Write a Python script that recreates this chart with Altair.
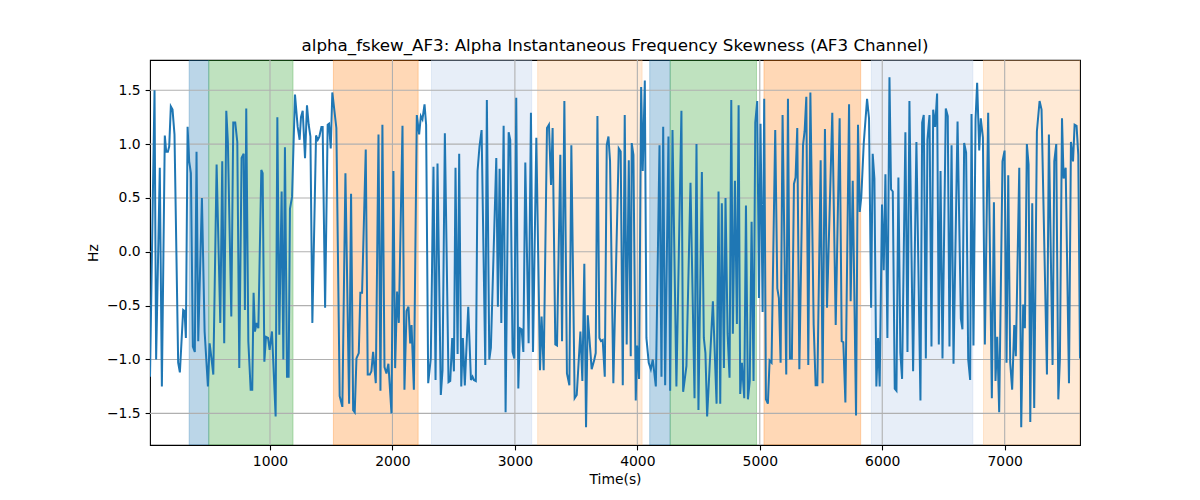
import altair as alt
import pandas as pd

time_s = [20, 57, 70, 100, 117, 141, 152, 166, 177, 190, 204, 220, 250, 264, 291, 302, 313, 327, 340, 354,
          370, 386, 400, 414, 444, 466, 493, 507, 523, 537, 564, 594, 610, 626, 643, 656, 684, 700, 716, 733,
          749, 768, 785, 795, 806, 823, 842, 855, 866, 877, 891, 905, 929, 940, 954, 967, 984, 997, 1016, 1046,
          1060, 1076, 1095, 1109, 1122, 1139, 1152, 1163, 1180, 1204, 1226, 1242, 1253, 1267, 1286, 1302, 1316, 1330, 1346, 1376,
          1390, 1403, 1420, 1430, 1450, 1471, 1482, 1496, 1509, 1542, 1569, 1591, 1616, 1646, 1662, 1679, 1692, 1706, 1725, 1738,
          1752, 1782, 1798, 1815, 1828, 1842, 1864, 1886, 1902, 1918, 1935, 1951, 1967, 1992, 2008, 2022, 2038, 2052, 2082, 2098,
          2115, 2131, 2145, 2156, 2175, 2199, 2218, 2232, 2245, 2262, 2275, 2292, 2313, 2335, 2352, 2368, 2395, 2409, 2428, 2458,
          2472, 2488, 2502, 2515, 2532, 2545, 2562, 2575, 2591, 2619, 2641, 2654, 2665, 2681, 2695, 2711, 2728, 2758, 2771, 2791,
          2804, 2848, 2861, 2875, 2889, 2908, 2924, 2949, 2962, 2981, 2995, 3011, 3028, 3041, 3055, 3069, 3085, 3112, 3131, 3148,
          3175, 3205, 3218, 3235, 3262, 3278, 3295, 3308, 3330, 3344, 3371, 3385, 3404, 3425, 3445, 3461, 3488, 3505, 3535, 3551,
          3567, 3581, 3595, 3627, 3649, 3660, 3674, 3690, 3703, 3717, 3734, 3750, 3764, 3777, 3804, 3848, 3864, 3881, 3897, 3913,
          3930, 3946, 3954, 3968, 3987, 3998, 4014, 4031, 4044, 4061, 4074, 4093, 4110, 4126, 4151, 4181, 4197, 4211, 4227, 4254,
          4268, 4287, 4319, 4360, 4374, 4401, 4434, 4467, 4483, 4499, 4527, 4543, 4556, 4570, 4617, 4647, 4663, 4677, 4690, 4707,
          4720, 4737, 4753, 4767, 4780, 4797, 4813, 4827, 4840, 4854, 4873, 4887, 4903, 4918, 4933, 4949, 4963, 4979, 4993, 5006,
          5023, 5036, 5050, 5066, 5080, 5096, 5126, 5143, 5156, 5170, 5186, 5216, 5230, 5246, 5262, 5279, 5292, 5306, 5323, 5353,
          5366, 5380, 5396, 5413, 5440, 5456, 5470, 5497, 5513, 5532, 5549, 5592, 5620, 5652, 5669, 5682, 5699, 5729, 5742, 5759,
          5786, 5802, 5816, 5829, 5849, 5876, 5892, 5909, 5922, 5936, 5952, 5966, 5979, 5998, 6012, 6026, 6042, 6059, 6072, 6086,
          6102, 6116, 6132, 6148, 6162, 6189, 6206, 6222, 6252, 6279, 6312, 6326, 6339, 6356, 6369, 6386, 6402, 6416, 6432, 6448,
          6462, 6476, 6492, 6519, 6535, 6549, 6566, 6582, 6615, 6642, 6655, 6669, 6685, 6702, 6718, 6729, 6745, 6762, 6775, 6792,
          6805, 6822, 6838, 6865, 6895, 6912, 6925, 6939, 6955, 6982, 6999, 7015, 7029, 7045, 7061, 7078, 7091, 7119, 7135, 7151,
          7165, 7181, 7195, 7209, 7225, 7241, 7263, 7285, 7301, 7345, 7361, 7391, 7405, 7421, 7438, 7451, 7468, 7481, 7498, 7525,
          7541, 7558, 7571, 7587, 7601, 7615]

hz = [-1.16, 1.50, -1.00, 0.78, -1.25, 1.08, 0.93, 0.93, 0.98, 1.35, 1.32, 1.09, -1.03, -1.12, -0.54, -0.55, -0.80, 1.16, 0.84, 0.73,
      -0.88, -0.93, 0.93, -0.83, 0.50, -0.74, -1.25, -0.85, -1.00, -1.14, 0.81, -0.66, 0.84, -0.85, 1.31, 1.02, -0.60, 1.20, 1.20, 1.02,
      -1.08, 0.87, 0.91, -0.54, 1.33, -0.83, -1.28, -1.28, -0.38, -0.74, -0.66, -0.71, 0.76, 0.73, -1.02, -0.79, -0.80, -0.91, -0.74, -1.53,
      1.25, -0.77, 0.56, -1.00, 0.97, -1.16, -1.16, 0.40, 0.51, 1.46, 1.16, 1.04, 1.25, 1.31, 0.87, 1.36, 1.18, 1.07, -0.66, 1.08,
      1.04, 1.07, 1.16, 1.16, -0.52, 1.18, 1.19, 0.96, 1.48, 1.15, -1.34, -1.44, 0.73, -1.41, 0.54, -1.47, -1.49, -0.99, -0.94, -0.38,
      -0.38, 0.95, -1.14, -1.14, -1.11, -0.93, -1.22, 1.09, -1.29, 1.18, -1.07, -1.13, -1.04, -1.50, 0.75, -1.08, -0.37, -0.66, 1.17, -1.28,
      -0.55, -0.51, -0.85, -0.68, -1.28, 1.27, 1.09, 1.26, 1.23, 1.37, 1.18, -1.22, -0.99, 0.79, -1.19, 0.82, -1.33, -1.10, 1.10, -1.21,
      -1.20, -0.80, -1.11, 0.78, -0.95, 0.91, -1.25, -0.80, -1.24, -0.51, -1.19, -1.16, -1.19, -1.20, 0.75, 0.98, 1.13, -1.05, 1.41, -1.00,
      -0.89, 0.87, -0.51, 0.77, -0.66, 1.17, -1.49, 1.11, 1.04, -0.93, -0.99, 1.43, -1.27, -0.71, -0.72, -0.93, 0.83, -0.85, 1.29, -0.93,
      1.06, -1.10, -0.60, -1.10, 1.15, 1.18, 0.62, 1.15, -0.86, -0.87, 0.90, -0.83, 1.40, -1.13, -1.24, 0.99, -1.36, -1.33, -0.74, -1.20,
      -0.11, -1.63, -0.59, -1.09, -1.00, -0.94, 1.26, -0.80, -0.83, -0.82, -1.16, 0.99, 1.07, 0.84, -1.22, 0.96, 0.93, -1.24, 1.27, -0.86,
      0.85, -0.97, 1.01, 0.90, -1.38, -0.87, -1.18, 1.53, 0.75, 1.59, -0.80, -1.03, -1.09, -1.00, -1.25, 0.99, -1.16, 1.16, -1.24, 1.07,
      -1.29, 1.13, -1.25, 1.31, -1.30, -1.06, 0.64, -1.36, 1.00, -1.47, 0.74, -0.80, -0.94, -1.53, -0.46, -1.41, 0.56, -1.41, 0.45, -1.08,
      0.50, -0.76, -1.17, 1.41, -0.76, 0.66, -0.67, 1.36, -1.32, -1.03, -1.36, 0.43, -1.37, -1.20, 0.28, -1.20, 1.20, 1.40, -0.43, 1.19,
      -0.56, 1.42, -1.37, -1.41, -1.01, -1.03, 1.13, -0.34, -0.43, -1.03, 1.27, -1.14, 1.42, -0.99, -0.99, 0.63, 0.69, 1.15, -1.09, 0.99,
      1.12, 1.44, -1.05, 1.48, -0.68, -1.24, -1.24, 0.85, -1.22, 1.14, -0.52, 1.29, -0.68, 1.24, -0.83, -0.84, -1.40, 1.37, -0.46, 0.66,
      -1.52, 1.18, 0.37, 0.51, 1.01, 1.42, 1.24, -0.52, 0.91, 0.68, -1.25, -0.80, -1.25, 0.44, -0.17, 0.72, -0.80, 1.62, 0.58, 0.56,
      -1.27, -1.29, 0.69, -0.94, -1.18, 1.11, -0.93, 1.40, -1.11, 1.02, -1.38, 1.20, 1.27, -0.99, 1.04, 1.27, -0.88, 1.32, 1.16, 1.47,
      -0.86, 0.75, -0.99, 1.33, 1.26, -0.88, 0.99, -1.04, 1.21, -0.62, -0.72, 1.01, 0.92, -1.00, -1.19, 1.28, -0.87, 1.23, 1.57, 0.94,
      1.24, 1.06, -0.86, 1.29, -1.36, 0.46, -1.20, -0.79, -1.49, 0.84, 0.94, -1.03, 0.71, -1.03, -1.28, -0.68, -0.97, 0.78, -1.63, -0.49,
      -0.71, 1.00, 0.81, -1.58, 0.45, -1.45, 1.12, 1.40, 1.32, -1.14, 1.09, -1.05, 0.84, 1.00, -1.37, -0.99, 1.24, 0.68, 0.78, -1.22,
      1.02, 0.84, 1.18, 1.17, 0.90, -0.99]

span_start = [340, 500, 1518, 2319, 3186, 4101, 4268, 5034, 5911, 6827]
span_end = [500, 1188, 2210, 3137, 4039, 4268, 4973, 5824, 6740, 7615]
span_color = ["#1f77b4", "#2ca02c", "#ff7f0e", "#aec7e8", "#ffbb78",
              "#1f77b4", "#2ca02c", "#ff7f0e", "#aec7e8", "#ffbb78"]

x_ticks = [1000, 2000, 3000, 4000, 5000, 6000, 7000]
y_ticks = [-1.5, -1.0, -0.5, 0.0, 0.5, 1.0, 1.5]

W, H = 930, 385

df = pd.DataFrame({"t": time_s, "v": hz})
spans = pd.DataFrame({"start": span_start, "end": span_end, "color": span_color})
xg = pd.DataFrame({"x": x_ticks})
yg = pd.DataFrame({"y": y_ticks})

x_scale = alt.Scale(domain=[20, 7615], nice=False, zero=False)
y_scale = alt.Scale(domain=[-1.794, 1.781], nice=False, zero=False)

x_axis = alt.Axis(values=x_ticks, format="d", title="Time(s)", titlePadding=4, labelFlush=False)
y_axis = alt.Axis(values=y_ticks, title="Hz", titlePadding=6,
                  labelExpr="replace(format(datum.value, '.1f'), '-', '\u2212')")

rects = alt.Chart(spans).mark_rect(fillOpacity=0.3, strokeOpacity=0.3, strokeWidth=1, clip=True).encode(
    x=alt.X("start:Q", scale=x_scale, axis=x_axis),
    x2="end:Q",
    y=alt.value(0),
    y2=alt.value(H),
    fill=alt.Fill("color:N", scale=None),
    stroke=alt.Stroke("color:N", scale=None),
)

xgrid = alt.Chart(xg).mark_rule(color="#b0b0b0", strokeWidth=1.1).encode(
    x=alt.X("x:Q", scale=x_scale, axis=x_axis)
)
ygrid = alt.Chart(yg).mark_rule(color="#b0b0b0", strokeWidth=1.1).encode(
    y=alt.Y("y:Q", scale=y_scale, axis=y_axis)
)

line = alt.Chart(df).mark_line(color="#1f77b4", strokeWidth=2, clip=True).encode(
    x=alt.X("t:Q", scale=x_scale, axis=x_axis),
    y=alt.Y("v:Q", scale=y_scale, axis=y_axis),
    order="t:Q",
)

chart = alt.layer(rects, xgrid, ygrid, line).properties(
    width=W, height=H,
    title=alt.TitleParams("alpha_fskew_AF3: Alpha Instantaneous Frequency Skewness (AF3 Channel)",
                          font="DejaVu Sans", fontSize=16.7, fontWeight="normal", color="black",
                          anchor="middle", offset=5),
    autosize=alt.AutoSizeParams(type="none"),
    padding={"left": 142, "top": 52, "right": 112, "bottom": 47},
).configure_view(stroke="black", strokeWidth=1.1).configure_axis(
    grid=False, domain=False, ticks=True, tickColor="black", tickSize=4.9, tickWidth=1.1,
    labelColor="black", labelFont="DejaVu Sans", labelFontSize=13.9, labelPadding=4.9,
    titleFont="DejaVu Sans", titleFontSize=13.9, titleFontWeight="normal", titleColor="black",
)

chart.save("out.html", embed_options={"renderer": "svg", "actions": False})
